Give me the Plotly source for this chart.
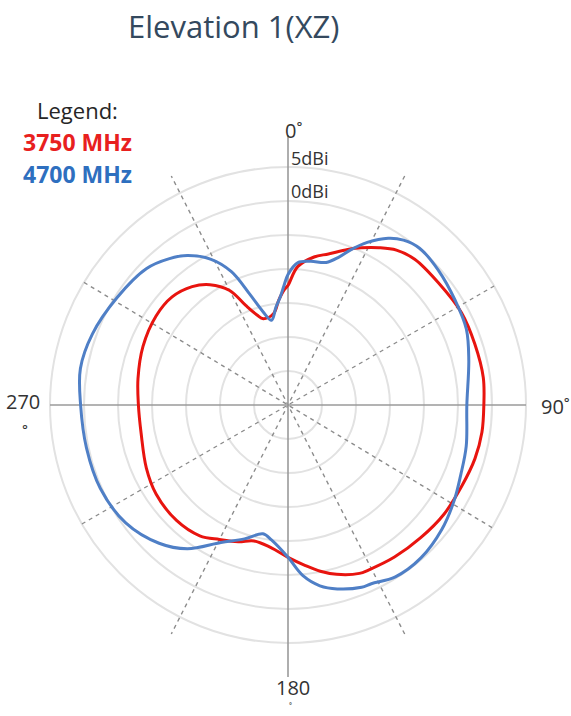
import plotly.graph_objects as go

# ---- data (angle in degrees clockwise from 0 at top, gain in dBi) ----
red_theta = [0, 4, 10, 15, 21, 25, 30, 35, 41, 51, 62, 72, 82, 90, 98, 106, 115, 125, 135, 145,
             154, 157, 164, 169, 174, 180, 187, 194, 200, 207, 214, 224, 236, 246, 259, 270, 280,
             292, 304, 313, 321, 327, 333, 337, 341, 344, 351, 355, 358, 360]
red_gain = [-12.4, -9.6, -7.9, -7.0, -5.5, -4.5, -3.3, -2.2, -1.6, -1.5, -1.1, -1.1, -1.0, -1.2, -1.2,
            -1.4, -1.8, -2.0, -2.4, -2.7, -3.0, -3.1, -4.1, -5.1, -6.3, -7.6, -8.9, -9.4, -8.6, -7.8,
            -6.8, -6.4, -6.6, -7.2, -8.0, -8.0, -7.6, -7.0, -6.6, -6.7, -7.6, -8.9, -11.1, -14.1,
            -16.0, -16.8, -16.4, -14.5, -13.1, -12.4]

blue_theta = [0, 4, 9, 15, 19, 22, 26, 31, 35, 40, 48, 58, 67, 76, 90, 103, 112, 120, 129, 139,
              148, 155, 158, 165, 170, 175, 180, 187, 191, 198, 206, 215, 223, 234, 246, 258, 270,
              280, 290, 302, 314, 321, 326, 332, 337, 341, 345, 349, 353, 356, 358, 360]
blue_gain = [-10.8, -9.0, -8.6, -8.3, -7.0, -5.4, -3.4, -1.4, -0.4, 0.1, -0.3, -1.0, -1.5, -2.6,
             -3.7, -3.1, -2.6, -1.8, -0.9, -0.2, -0.2, -1.0, -1.1, -2.0, -3.0, -4.8, -7.6, -10.0,
             -10.7, -9.3, -7.5, -4.2, -2.2, -0.5, 0.2, 0.3, 0.5, 1.0, 0.6, -0.3, -1.1, -2.3, -3.5,
             -5.7, -8.7, -12.8, -15.8, -17.3, -15.5, -14.0, -12.5, -10.8]

series_names = ["3750 MHz", "4700 MHz"]
ring_vals = [-25, -20, -15, -10, -5, 0, 5]
ring_labels = {5: "5dBi", 0: "0dBi"}
dash_angles = [27, 60, 121, 153]

R_MIN, R_MAX = -30, 10
RED = "#e8140f"
BLUE = "#4f7fc6"

fig = go.Figure()

# dashed reference spokes
for a in dash_angles:
    ext = 7.8 if a in (27, 153) else 5
    fig.add_trace(go.Scatterpolar(
        r=[ext, R_MIN, ext], theta=[a, 0, a + 180], mode="lines",
        line=dict(color="#8c8c8c", width=1.4, dash="4px,4px"),
        hoverinfo="skip", showlegend=False, cliponaxis=False))

# solid axes
fig.add_trace(go.Scatterpolar(r=[9.7, R_MIN, 10.0], theta=[0, 0, 180], mode="lines",
                              line=dict(color="#9a9a9a", width=1.6),
                              hoverinfo="skip", showlegend=False, cliponaxis=False))
fig.add_trace(go.Scatterpolar(r=[5, R_MIN, 5], theta=[90, 0, 270], mode="lines",
                              line=dict(color="#9a9a9a", width=1.6),
                              hoverinfo="skip", showlegend=False, cliponaxis=False))

fig.add_trace(go.Scatterpolar(r=red_gain, theta=red_theta, mode="lines", name=series_names[0],
                              line=dict(color=RED, width=3, shape="spline", smoothing=1.0),
                              showlegend=False))
fig.add_trace(go.Scatterpolar(r=blue_gain, theta=blue_theta, mode="lines", name=series_names[1],
                              line=dict(color=BLUE, width=3, shape="spline", smoothing=1.0),
                              showlegend=False))

W, H = 571, 716
cx, cy = 288, 405
rad = (R_MAX - R_MIN) * 6.8

fig.update_layout(
    width=W, height=H,
    margin=dict(l=0, r=0, t=0, b=0),
    paper_bgcolor="white", plot_bgcolor="white",
    showlegend=False,
    polar=dict(
        domain=dict(x=[(cx - rad) / W, (cx + rad) / W],
                    y=[(H - cy - rad) / H, (H - cy + rad) / H]),
        bgcolor="rgba(0,0,0,0)",
        radialaxis=dict(range=[R_MIN, R_MAX], tickvals=ring_vals, showticklabels=False,
                        ticks="", showline=False, gridcolor="#e2e2e2", gridwidth=1.5),
        angularaxis=dict(rotation=90, direction="clockwise", showgrid=False,
                         showline=False, showticklabels=False, ticks=""),
    ),
)

def px(x, y):
    return x / W, 1 - y / H

ann = []
def add_text(text, x, y, size, color, xanchor="center", yanchor="middle", family="Open Sans", bold=False):
    X, Y = px(x, y)
    t = f"<b>{text}</b>" if bold else text
    ann.append(dict(text=t, x=X, y=Y, xref="paper", yref="paper", showarrow=False,
                    xanchor=xanchor, yanchor=yanchor,
                    font=dict(size=size, color=color, family=family)))

add_text("Elevation 1(XZ)", 233, 26, 31, "#34495e", family="Open Sans")
add_text("Legend:", 35, 110, 22, "#262626", xanchor="left")
add_text(series_names[0], 21, 142, 23, "#e8201e", xanchor="left", bold=True)
add_text(series_names[1], 21, 174, 23, "#2e6fbf", xanchor="left", bold=True)

add_text("0˚", 283, 130, 20, "#333333", xanchor="left")
add_text(ring_labels[5], 289, 158, 18, "#333333", xanchor="left")
add_text(ring_labels[0], 289, 191, 18, "#333333", xanchor="left")
add_text("90˚", 539, 406, 20, "#333333", xanchor="left")
add_text("270", 42, 401, 20, "#333333", xanchor="right")
add_text("˚", 25, 433, 20, "#333333")
add_text("180", 293, 687, 20, "#333333")
add_text("˚", 290, 716, 10, "#333333", yanchor="bottom")

fig.update_layout(annotations=ann)
fig.write_html("out.html", config={"displayModeBar": False},
               post_script="document.body.style.margin='0';document.body.style.overflow='hidden';")
